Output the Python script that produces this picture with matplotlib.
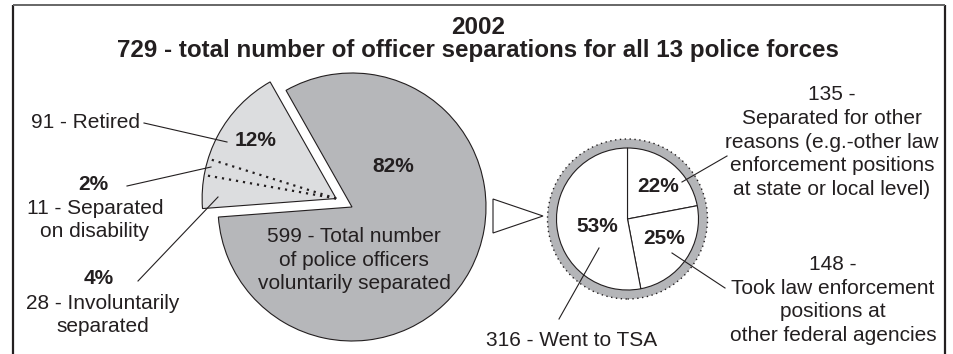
import numpy as np
import matplotlib.pyplot as plt
from matplotlib.patches import Wedge, Circle, Polygon

W, H = 954, 354

# all separations (shares of 729)
main_pct = [12, 2, 4, 82]
main_counts = [91, 11, 28, 599]
# voluntary separations broken down (shares of 599)
vol_pct = [22, 25, 53]
vol_counts = [135, 148, 316]

year = "2002"
total = 729
n_forces = 13

plt.rcParams['font.family'] = ['Liberation Sans', 'DejaVu Sans']
ink = '#231f20'
dark_gray = '#b6b7ba'
light_gray = '#dcdddf'
fs = 15

fig = plt.figure(figsize=(W / 100, H / 100), dpi=100)
ax = fig.add_axes([0, 0, 1, 1])

def Y(y):
    # pixel rows counted from the top
    return H - y

# main pie, the small slices pulled out together as one block
c_main = np.array([352.0, Y(207)])
r_main = 134
wedges, _ = ax.pie(main_pct, startangle=119.5, counterclock=True,
                   radius=r_main, center=tuple(c_main),
                   colors=[light_gray, light_gray, light_gray, dark_gray],
                   wedgeprops=dict(edgecolor=ink, linewidth=0.8))
t1, t2 = wedges[0].theta1, wedges[2].theta2
mid = np.radians((t1 + t2) / 2)
shift = 18 * np.array([np.cos(mid), np.sin(mid)])
c_out = c_main + shift
for w in wedges[:3]:
    w.set_center(tuple(c_out))
    w.set_edgecolor('none')
ax.add_patch(Wedge(tuple(c_out), r_main, t1, t2, fill=False, ec=ink, lw=0.8))
for w in wedges[:2]:
    a = np.radians(w.theta2)
    ax.plot([c_out[0], c_out[0] + r_main * np.cos(a)],
            [c_out[1], c_out[1] + r_main * np.sin(a)],
            color=ink, lw=1.6, ls=(0, (1, 2.2)))

# breakdown pie with grey ring
c_vol = (627.5, Y(219))
ax.add_patch(Circle(c_vol, 80, fc='#b4b5b8', ec='none'))
ax.add_patch(Circle(c_vol, 80, fill=False, ec=ink, lw=1.0, ls=(0, (1, 2.5))))
ax.pie(vol_pct, startangle=90, counterclock=False, radius=71, center=c_vol,
       colors=['white'] * 3, wedgeprops=dict(edgecolor=ink, linewidth=0.8))

# pointer between the two pies
ax.add_patch(Polygon([(493, Y(199)), (493, Y(233)), (543, Y(216))],
                     closed=True, fc='white', ec=ink, lw=0.8))

# frame
ax.plot([13, 13], [0, Y(5)], color=ink, lw=1.6, solid_capstyle='butt')
ax.plot([945, 945], [0, Y(5)], color=ink, lw=1.6, solid_capstyle='butt')
ax.plot([13, 945], [Y(5), Y(5)], color='#666666', lw=1.4, solid_capstyle='butt')

# titles
ax.text(478, Y(28), year, ha='center', va='center', fontsize=17.4, weight='bold', color=ink)
ax.text(478, Y(51), f"{total} - total number of officer separations for all {n_forces} police forces",
        ha='center', va='center', fontsize=17.4, weight='bold', color=ink)

def pct(p):
    return f"{p}%"

bold = dict(ha='center', va='center', fontsize=fs, weight='bold', color=ink)
norm = dict(ha='center', va='center', fontsize=fs, color=ink, linespacing=1.31)

# left block labels
ax.text(86, Y(123), f"{main_counts[0]} - Retired", **norm)
ax.text(256, Y(141), pct(main_pct[0]), **bold)
ax.text(93, Y(184), pct(main_pct[1]), **bold)
ax.text(95, Y(220), f"{main_counts[1]} - Separated\non disability", **norm)
ax.text(99, Y(278), pct(main_pct[2]), **bold)
ax.text(103, Y(315), f"{main_counts[2]} - Involuntarily\nseparated", **norm)
ax.text(393, Y(166), pct(main_pct[3]), **bold)
ax.text(354, Y(260), f"{main_counts[3]} - Total number\nof police officers\nvoluntarily separated", **norm)

# breakdown labels
ax.text(832, Y(142), f"{vol_counts[0]} -\nSeparated for other\nreasons (e.g.-other law\n"
        "enforcement positions\nat state or local level)", **norm)
ax.text(658, Y(187), pct(vol_pct[0]), **bold)
ax.text(664, Y(239), pct(vol_pct[1]), **bold)
ax.text(597, Y(227), pct(vol_pct[2]), **bold)
ax.text(833, Y(300), f"{vol_counts[1]} -\nTook law enforcement\npositions at\nother federal agencies", **norm)
ax.text(572, Y(340), f"{vol_counts[2]} - Went to TSA", **norm)

# leader lines
leaders = [
    ((144, 123), (227, 142)),
    ((127, 186), (211, 167)),
    ((138, 281), (218, 197)),
    ((599, 248), (559, 319)),
    ((682, 182), (727, 156)),
    ((672, 253), (725, 288)),
]
for (x0, y0), (x1, y1) in leaders:
    ax.plot([x0, x1], [Y(y0), Y(y1)], color=ink, lw=0.8)

ax.set_xlim(0, W)
ax.set_ylim(0, H)
ax.set_aspect('auto')
ax.axis('off')

fig.savefig('out.png', dpi=100)
